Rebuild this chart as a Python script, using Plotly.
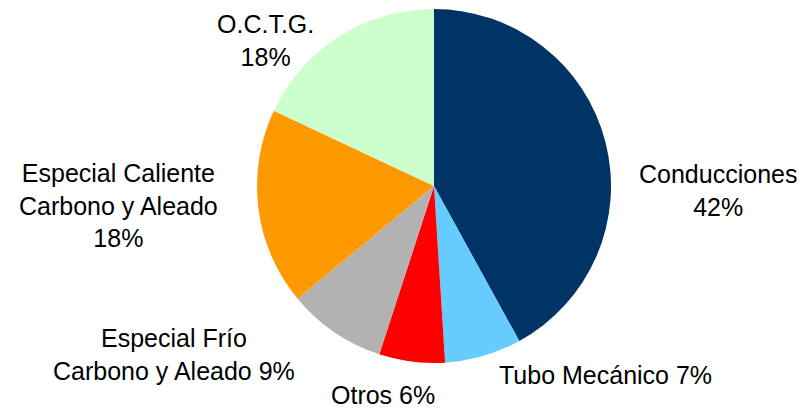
import plotly.graph_objects as go

labels = ["Conducciones", "Tubo Mecánico", "Otros", "Especial Frío Carbono y Aleado", "Especial Caliente Carbono y Aleado", "O.C.T.G."]
values = [42, 7, 6, 9, 18, 18]
text_labels = ["Conducciones<br>42%", "Tubo Mecánico 7%", "Otros 6%", "Especial Frío<br>Carbono y Aleado 9%", "Especial Caliente<br>Carbono y Aleado<br>18%", "O.C.T.G.<br>18%"]
colors = ["#003366", "#66CCFF", "#FF0000", "#B2B2B2", "#FF9900", "#CCFFCC"]

W, H = 807, 409
cx, cy, r = 434, 186, 177

# label block centres in pixels (layout only)
label_pos = [(718, 190), (605, 375), (383, 395), (174, 354), (118, 205), (265, 41)]

fig = go.Figure(go.Pie(
    labels=labels,
    values=values,
    textinfo="none",
    sort=False,
    direction="clockwise",
    rotation=0,
    marker=dict(colors=colors, line=dict(width=0)),
    showlegend=False,
    hoverinfo="label+percent",
    domain=dict(x=[(cx - r) / W, (cx + r) / W], y=[(H - cy - r) / H, (H - cy + r) / H]),
))

for txt, (px, py) in zip(text_labels, label_pos):
    fig.add_annotation(
        x=px / W, y=1 - py / H, xref="paper", yref="paper",
        text=txt, showarrow=False, align="center",
        xanchor="center", yanchor="middle",
        font=dict(family="Liberation Sans, Arial, sans-serif", size=25, color="#000000"),
    )

fig.update_layout(
    width=W, height=H,
    margin=dict(l=0, r=0, t=0, b=0),
    paper_bgcolor="#FFFFFF",
    plot_bgcolor="#FFFFFF",
)

fig.write_html(
    "out.html",
    config={"displayModeBar": False},
    post_script="document.body.style.margin='0';document.body.style.overflow='hidden';",
)
